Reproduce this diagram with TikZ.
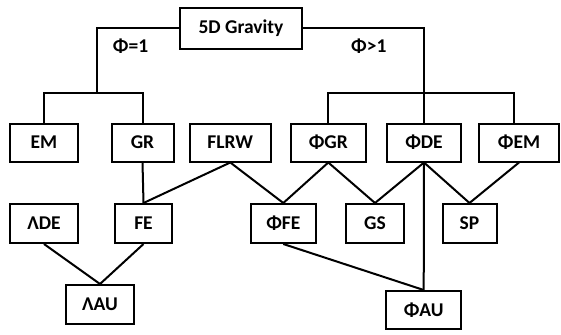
\documentclass[tikz,border=0pt]{standalone}
\usepackage{fontspec}
\setmainfont{Carlito}
\tikzset{
  box/.style={draw,line width=2pt,inner sep=0pt,font=\fontsize{19.5}{22}\selectfont\bfseries},
  link/.style={line width=2pt}
}
\begin{document}
\begin{tikzpicture}[x=1pt,y=-1pt]
        \useasboundingbox (0,0) rectangle (561,334);
        \node[box,minimum width=122,minimum height=41] (grav) at (241,28.5) {5D Gravity};
        \node[box,minimum width=68,minimum height=38] (em) at (44,142.5) {EM};
        \node[box,minimum width=62,minimum height=38] (gr) at (142.5,142.5) {GR};
        \node[box,minimum width=81,minimum height=38] (flrw) at (230.3,142.5) {FLRW};
        \node[box,minimum width=75,minimum height=38] (phigr) at (328.3,142.5) {ΦGR};
        \node[box,minimum width=74,minimum height=38] (phide) at (424,142.5) {ΦDE};
        \node[box,minimum width=80,minimum height=38] (phiem) at (519,142.5) {ΦEM};
        \node[box,minimum width=68,minimum height=39] (lde) at (44,223.5) {ΛDE};
        \node[box,minimum width=57,minimum height=39] (fe) at (143.5,223.5) {FE};
        \node[box,minimum width=65,minimum height=39] (phife) at (283.3,223.5) {ΦFE};
        \node[box,minimum width=58,minimum height=39] (gs) at (375,223.5) {GS};
        \node[box,minimum width=54,minimum height=39] (sp) at (469.5,223.5) {SP};
        \node[box,minimum width=68,minimum height=39] (lau) at (100,304.5) {ΛAU};
        \node[box,minimum width=75,minimum height=38] (phiau) at (423.7,310) {ΦAU};
        \node[font=\fontsize{19.5}{22}\selectfont\bfseries] (eq) at (130.6,46.5) {Φ=1};
        \node[font=\fontsize{19.5}{22}\selectfont\bfseries] (gt) at (368.8,46.5) {Φ>1};
        \coordinate (lsplit) at (96.6,93);
        \coordinate (rsplit) at (424,93);
        \draw[link] (grav.west) -| (lsplit);
        \draw[link] (grav.east) -| (rsplit) -- (phide.north);
        \draw[link] (em.north) |- (lsplit) -| (gr.north);
        \draw[link] (phigr.north) |- (rsplit) -| ([xshift=-5.5pt]phiem.north);
        \draw[link] (gr.south) -- (fe.north);
        \draw[link] (fe.north) -- (flrw.south) -- (phife.north);
        \draw[link] (phife.north) -- (phigr.south) -- (gs.north);
        \draw[link] (gs.north) -- (phide.south) -- (sp.north);
        \draw[link] (phide.south) -- (phiau.north);
        \draw[link] (sp.north) -- (phiem.south);
        \draw[link] (lde.south) -- (lau.north) -- (fe.south);
        \draw[link] (phife.south) -- (phiau.north);
\end{tikzpicture}
\end{document}
